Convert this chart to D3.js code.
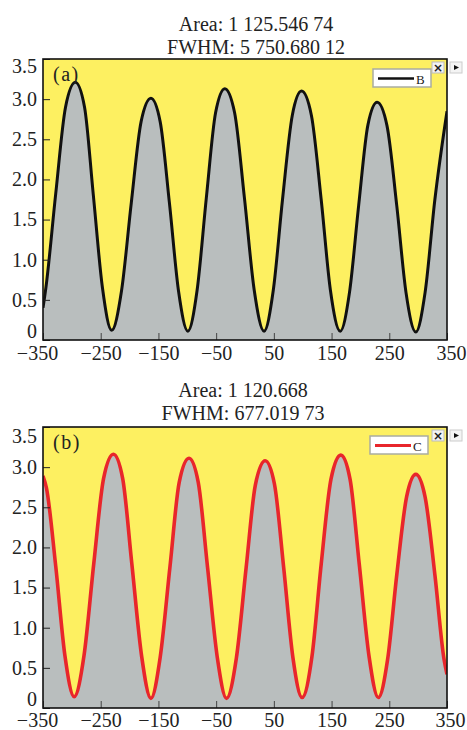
<!DOCTYPE html>
<html lang="en">
<head>
<meta charset="UTF-8">
<title>Area / FWHM panels</title>
<style>
    body { margin: 0; padding: 0; background: #fff; }
    text { font-family: "Liberation Serif", "DejaVu Serif", serif; fill: #222; }
</style>
</head>
<body>
<svg id="chart" width="467" height="730"></svg>

<script src="https://d3js.org/d3.v7.min.js"></script>
<script>
// ---- data ----
var xTicks = [-350, -250, -150, -50, 50, 150, 250, 350];
var yTicks = [0, 0.5, 1.0, 1.5, 2.0, 2.5, 3.0, 3.5];

var seriesBx = [-350, -345, -328, -311, -294, -278, -263, -247, -231, -214, -197, -180, -163, -147, -131, -115,
    -99, -83, -67, -51, -35, -18, -1, 16, 33, 49, 65, 82, 98, 115, 132, 148, 165, 181, 197, 213, 229,
    246, 263, 279, 296, 312, 329, 350];
var seriesBy = [0.40, 0.65, 1.82, 2.90, 3.21, 2.90, 1.82, 0.65, 0.12, 0.61, 1.71, 2.72, 3.01, 2.72, 1.71, 0.60,
    0.11, 0.62, 1.77, 2.83, 3.13, 2.83, 1.77, 0.62, 0.11, 0.62, 1.75, 2.80, 3.10, 2.80, 1.75, 0.62, 0.11,
    0.59, 1.68, 2.68, 2.96, 2.67, 1.67, 0.59, 0.10, 0.59, 1.75, 2.85];

var seriesCx = [-350, -344, -328, -312, -296, -279, -262, -245, -228, -212, -196, -179, -163, -147, -130, -114,
    -97, -81, -65, -48, -32, -15, 2, 18, 35, 51, 67, 83, 99, 116, 132, 149, 166, 182, 198, 215, 231,
    247, 263, 280, 296, 312, 329, 345, 350];
var seriesCy = [2.89, 2.74, 1.77, 0.65, 0.14, 0.65, 1.80, 2.86, 3.16, 2.86, 1.79, 0.64, 0.12, 0.63, 1.76, 2.81,
    3.11, 2.81, 1.76, 0.63, 0.12, 0.62, 1.75, 2.78, 3.08, 2.79, 1.75, 0.63, 0.13, 0.64, 1.79, 2.85, 3.15,
    2.85, 1.79, 0.64, 0.13, 0.60, 1.66, 2.63, 2.91, 2.63, 1.66, 0.60, 0.42];

var titlesA = ["Area: 1 125.546 74", "FWHM: 5 750.680 12"];
var titlesB = ["Area: 1 120.668", "FWHM: 677.019 73"];

var svg = d3.select("#chart");

function drawPanel(p) {
    var left = 43, right = 447;
    var top = p.top, bottom = p.top + 281;

    var x = d3.scaleLinear().domain([-350, 350]).range([left, right]);
    var y = d3.scaleLinear().domain([0, 3.5]).range([bottom, top]);

    var data = p.xs.map(function (d, i) { return {x: d, y: p.ys[i]}; });

    var g = svg.append("g");

    // titles
    g.selectAll(".title")
        .data(p.titles)
        .enter()
        .append("text")
        .attr("x", p.titleX)
        .attr("y", function (d, i) { return p.titleY + i * 22.5; })
        .attr("text-anchor", "middle")
        .style("font-size", "20px")
        .text(function (d) { return d; });

    var clipId = "clip-" + p.name;
    g.append("clipPath").attr("id", clipId)
        .append("rect")
        .attr("x", left).attr("y", top)
        .attr("width", right - left).attr("height", bottom - top);

    // yellow plot background
    g.append("rect")
        .attr("x", left).attr("y", top)
        .attr("width", right - left).attr("height", bottom - top)
        .attr("fill", "#fdf061");

    var area = d3.area()
        .x(function (d) { return x(d.x); })
        .y0(y(0))
        .y1(function (d) { return y(d.y); })
        .curve(d3.curveMonotoneX);

    var line = d3.line()
        .x(function (d) { return x(d.x); })
        .y(function (d) { return y(d.y); })
        .curve(d3.curveMonotoneX);

    var plot = g.append("g").attr("clip-path", "url(#" + clipId + ")");

    plot.append("path")
        .datum(data)
        .attr("d", area)
        .attr("fill", "#b9bebe");

    plot.append("path")
        .datum(data)
        .attr("d", line)
        .attr("fill", "none")
        .attr("stroke", p.color)
        .attr("stroke-width", p.lineWidth)
        .attr("stroke-linejoin", "round");

    // axes, ticks pointing inward
    var xAxis = g.append("g")
        .attr("transform", "translate(0," + bottom + ")")
        .call(d3.axisBottom(x)
            .tickValues(xTicks)
            .tickSize(-7)
            .tickSizeOuter(0)
            .tickPadding(p.xPad)
            .tickFormat(function (d) { return d < 0 ? "\u2212" + Math.abs(d) : d; }));
    xAxis.select(".domain").remove();
    xAxis.selectAll(".tick line").attr("stroke", "#444");
    xAxis.selectAll(".tick text")
        .style("font-size", "20px")
        .style("font-family", "'Liberation Serif', serif")
        .attr("fill", "#222")
        .attr("dx", function (d) {
            if (d === -350) return -6;
            if (d === 350) return p.lastDx;
            return 0;
        });

    var yAxis = g.append("g")
        .attr("transform", "translate(" + left + ",0)")
        .call(d3.axisLeft(y)
            .tickValues(yTicks)
            .tickSize(-7)
            .tickSizeOuter(0)
            .tickPadding(6)
            .tickFormat(function (d) { return d === 0 ? "0" : d3.format(".1f")(d); }));
    yAxis.select(".domain").remove();
    yAxis.selectAll(".tick line").attr("stroke", "#222");
    yAxis.selectAll(".tick text")
        .style("font-size", "20px")
        .style("font-family", "'Liberation Serif', serif")
        .attr("fill", "#222")
        .attr("dy", function (d) {
            if (d === 3.5) return p.topDy;
            if (d === 0) return "-0.15em";
            return "0.32em";
        });

    // frame
    g.append("rect")
        .attr("x", left).attr("y", top)
        .attr("width", right - left).attr("height", bottom - top)
        .attr("fill", "none")
        .attr("stroke", "#111")
        .attr("stroke-width", 1.6);

    // panel label
    g.append("text")
        .attr("x", 53)
        .attr("y", top + 22)
        .style("font-size", "20px")
        .style("letter-spacing", "1.5px")
        .text(p.label);

    // legend
    var lg = g.append("g").attr("transform", "translate(" + p.legendX + "," + (top + p.legendDy) + ")");
    lg.append("rect")
        .attr("width", 58).attr("height", 18)
        .attr("fill", "#fff")
        .attr("stroke", "#a9aca0")
        .attr("stroke-width", 1.5);
    lg.append("line")
        .attr("x1", 5).attr("x2", 41)
        .attr("y1", 9.5).attr("y2", 9.5)
        .attr("stroke", p.color)
        .attr("stroke-width", p.name === "a" ? 2.5 : 3);
    lg.append("text")
        .attr("x", 43).attr("y", 14.5)
        .style("font-size", "13px")
        .text(p.key);

    // small window buttons at the corner
    var bt = g.append("g").attr("transform", "translate(432," + (top + 3) + ")");
    bt.append("rect")
        .attr("width", 12).attr("height", 11)
        .attr("fill", "#f2f2f2").attr("stroke", "#bbb");
    bt.append("text")
        .attr("x", 6).attr("y", 9.5)
        .attr("text-anchor", "middle")
        .style("font-family", "'DejaVu Sans', sans-serif")
        .style("font-size", "12px")
        .style("font-weight", "bold")
        .text("\u00d7");
    bt.append("rect")
        .attr("x", 18).attr("width", 12).attr("height", 11)
        .attr("fill", "#f4f4f4").attr("stroke", "#ccc");
    bt.append("path")
        .attr("d", "M22,3 L27,5.5 L22,8 Z")
        .attr("fill", "#111");
}

drawPanel({
    name: "a", top: 59, titleX: 256, titleY: 31, titles: titlesA,
    xs: seriesBx, ys: seriesBy, color: "#111", lineWidth: 3,
    label: "(a)", key: "B", legendX: 373, legendDy: 10, lastDx: 4, xPad: 6, topDy: "0.65em"
});

drawPanel({
    name: "b", top: 427, titleX: 243, titleY: 397, titles: titlesB,
    xs: seriesCx, ys: seriesCy, color: "#e8262b", lineWidth: 3.6,
    label: "(b)", key: "C", legendX: 370, legendDy: 9, lastDx: 3, xPad: 5, topDy: "0.75em"
});
</script>
</body>
</html>
